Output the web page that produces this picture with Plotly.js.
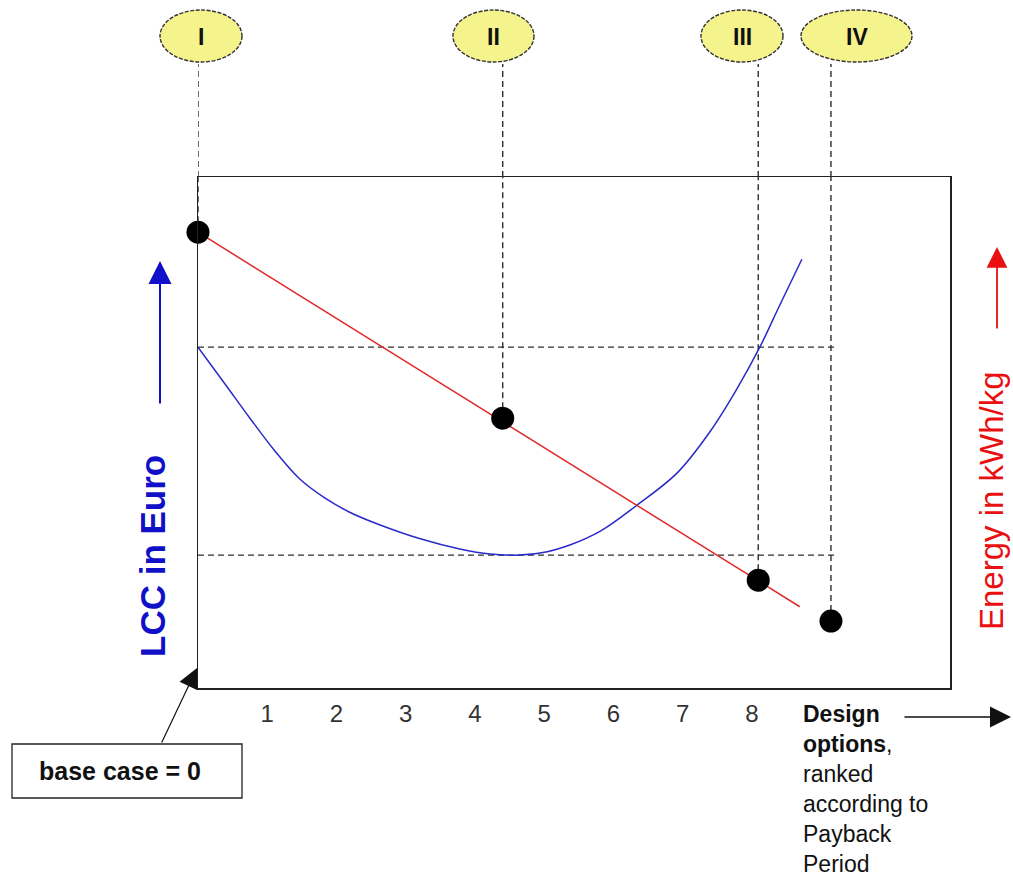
<!DOCTYPE html>
<html>
<head>
<meta charset="utf-8">
<script src="https://cdn.plot.ly/plotly-3.0.1.min.js"></script>
<style>html,body{margin:0;padding:0;background:#fff;}#chart{width:1013px;height:876px;}</style>
</head>
<body>
<div id="chart"></div>
<script>
// ---- data (arbitrary units) ----
const designOptions = [1, 2, 3, 4, 5, 6, 7, 8];
const tickLabels = ['1', '2', '3', '4', '5', '6', '7', '8'];
const lccX = [0, 0.39, 0.75, 1.11, 1.47, 1.83, 2.19, 2.63, 3.21, 3.78, 4.22, 4.58, 4.94, 5.37, 5.81, 6.34, 6.92, 7.39, 7.78, 8.12, 8.40, 8.72];
const lccY = [66.7, 59.5, 52.8, 46.4, 40.9, 37.2, 34.4, 31.9, 29.2, 27.2, 26.2, 26.0, 26.4, 28.0, 30.7, 35.8, 42.1, 50.1, 58.5, 66.9, 74.9, 83.9];
const energyX = [0, 8.69];
const energyY = [89.2, 15.9];
const pointLabels = ['I', 'II', 'III', 'IV'];
const pointX = [0, 4.40, 8.09, 9.14];
const pointY = [89.2, 52.8, 21.1, 13.1];
const refLineEndX = 9.24;

// ---- layout constants ----
const W = 1013, H = 876;
const L = 198, R = 950, T = 177, B = 688;
const px = v => (v - L) / (R - L);      // pixel -> paper x
const py = v => (B - v) / (B - T);      // pixel -> paper y

const FONT = 'Liberation Sans, Arial, sans-serif';
const dash = '6px,4px';
const dashColor = '#2e2e2e';
const shapes = [];
const annotations = [];

// horizontal reference lines: base case LCC and minimum LCC
const lccMin = Math.min(...lccY);
[lccY[0], lccMin].forEach(yv => {
  shapes.push({type: 'line', xref: 'x', yref: 'y', x0: lccX[0], x1: refLineEndX, y0: yv, y1: yv,
    line: {color: dashColor, width: 1.4, dash: dash}, layer: 'below'});
});

// vertical dashed lines from points up to the ellipses
const ellipseX = [[160, 242], [453, 534], [701, 783], [801, 912]];
pointX.forEach((xv, i) => {
  shapes.push({type: 'line', xref: 'x', yref: 'y', x0: xv, x1: xv, y0: pointY[i], y1: 100,
    line: {color: dashColor, width: 1.4, dash: dash}, layer: 'below'});
  shapes.push({type: 'line', xref: 'x', yref: 'paper', x0: xv, x1: xv, y0: 1, y1: py(64),
    line: {color: dashColor, width: 1.4, dash: dash}});
  const ex = ellipseX[i];
  shapes.push({type: 'circle', xref: 'paper', yref: 'paper', x0: px(ex[0]), x1: px(ex[1]), y0: py(62), y1: py(10),
    fillcolor: '#f5f38c', line: {color: '#333333', width: 1.4, dash: '4px,1.5px'}});
  annotations.push({xref: 'paper', yref: 'paper', x: px((ex[0] + ex[1]) / 2), y: py(37), text: '<b>' + pointLabels[i] + '</b>',
    showarrow: false, xanchor: 'center', yanchor: 'middle', font: {family: FONT, size: 23, color: '#111'}});
});

// base case box
shapes.push({type: 'rect', xref: 'paper', yref: 'paper', x0: px(12), x1: px(242), y0: py(798), y1: py(744),
  fillcolor: '#ffffff', line: {color: '#222', width: 1.3}});
annotations.push({xref: 'paper', yref: 'paper', x: px(120), y: py(771), text: '<b>base case = 0</b>', showarrow: false,
  xanchor: 'center', yanchor: 'middle', font: {family: FONT, size: 25, color: '#111'}});
// arrow from base case box to origin
annotations.push({xref: 'paper', yref: 'paper', x: px(197), y: py(668), ax: -36, ay: 76, text: '', showarrow: true,
  arrowhead: 2, arrowsize: 3.3, arrowwidth: 1.2, arrowcolor: '#111', standoff: 0});

// LCC axis label and arrow
annotations.push({xref: 'paper', yref: 'paper', x: px(152), y: py(556), text: '<b>LCC in Euro</b>', showarrow: false,
  textangle: -90, xanchor: 'center', yanchor: 'middle', font: {family: FONT, size: 35, color: '#1010c8'}});
annotations.push({xref: 'paper', yref: 'paper', x: px(160), y: py(261), ax: 0, ay: 144, text: '', showarrow: true,
  arrowhead: 2, arrowsize: 2.3, arrowwidth: 2, arrowcolor: '#1010c8', standoff: 0});

// Energy axis label and arrow
annotations.push({xref: 'paper', yref: 'paper', x: px(991), y: py(500), text: 'Energy in kWh/kg', showarrow: false,
  textangle: -90, xanchor: 'center', yanchor: 'middle', borderpad: 0, font: {family: FONT, size: 33, color: '#e81010'}});
annotations.push({xref: 'paper', yref: 'paper', x: px(997), y: py(247), ax: 0, ay: 83, text: '', showarrow: true,
  arrowhead: 2, arrowsize: 2.3, arrowwidth: 1.8, arrowcolor: '#e81010', standoff: 0});

// design options text and arrow
annotations.push({xref: 'paper', yref: 'paper', x: px(801), y: py(699), xanchor: 'left', yanchor: 'top', align: 'left',
  text: '<b>Design</b><br><b>options</b>,<br>ranked<br>according to<br>Payback<br>Period', showarrow: false,
  font: {family: FONT, size: 23, color: '#111'}});
annotations.push({xref: 'paper', yref: 'paper', x: px(1011), y: py(717), ax: -108, ay: 0, text: '', showarrow: true,
  arrowhead: 2, arrowsize: 2.8, arrowwidth: 1.5, arrowcolor: '#111', standoff: 0});

const traces = [
  {x: lccX, y: lccY, type: 'scatter', mode: 'lines', line: {color: '#2a2ac8', width: 1.5, shape: 'spline', smoothing: 1.0},
   hoverinfo: 'skip'},
  {x: energyX, y: energyY, type: 'scatter', mode: 'lines', line: {color: '#e02828', width: 1.5}, hoverinfo: 'skip'},
  {x: pointX, y: pointY, type: 'scatter', mode: 'markers', marker: {color: '#000', size: 23}, cliponaxis: false,
   text: pointLabels, hoverinfo: 'text'}
];

const layout = {
  width: W, height: H, autosize: false,
  margin: {l: L, r: W - R, t: T, b: H - B, pad: 0},
  paper_bgcolor: '#fff', plot_bgcolor: '#fff',
  showlegend: false,
  xaxis: {range: [0, 10.859], tickvals: designOptions, ticktext: tickLabels, ticks: '', showgrid: false, zeroline: false,
    showline: true, mirror: true, linecolor: '#222', linewidth: 1.5, ticklabelstandoff: 4,
    tickfont: {family: FONT, size: 24, color: '#333'}, fixedrange: true},
  yaxis: {range: [0, 100], showticklabels: false, ticks: '', showgrid: false, zeroline: false,
    showline: true, mirror: true, linecolor: '#222', linewidth: 1.5, fixedrange: true},
  shapes: shapes,
  annotations: annotations
};

Plotly.newPlot('chart', traces, layout, {displayModeBar: false, staticPlot: true});
</script>
</body>
</html>
